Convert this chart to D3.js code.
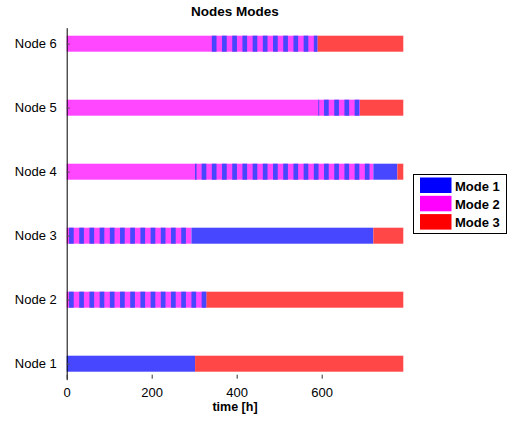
<!DOCTYPE html>
<html><head><meta charset="utf-8">
<script src="https://cdn.jsdelivr.net/npm/d3@7"></script>
<style>body{margin:0;background:#fff}svg{display:block;font-family:"Liberation Sans",Arial,sans-serif}</style>
</head><body><svg id="c" width="515" height="424"></svg>
<script>
// ---- data ----
const nodes = ["Node 1","Node 2","Node 3","Node 4","Node 5","Node 6"];
const modes = ["Mode 1","Mode 2","Mode 3"];
const modeColors = ["#0000ff","#ff00ff","#ff0000"];
const barColors = ["#4747ff","#ff47ff","#ff4747"];
const xTicks = [0,200,400,600];
const xMax = 792;
// base segments per node: [start, end, mode]
const node1Base = [[0,302,1],[302,792,3]];
const node2Base = [[0,328.5,2],[328.5,792,3]];
const node3Base = [[0,293.5,2],[293.5,721.5,1],[721.5,792,3]];
const node4Base = [[0,721.5,2],[721.5,778,1],[778,792,3]];
const node5Base = [[0,690,2],[690,792,3]];
const node6Base = [[0,590,2],[590,792,3]];
// Mode 1 intervals inside Mode 2 periods: [start, end]
const node1Stripes = [];
const node2Stripes = [[5.5,16.5],[29.5,40.5],[53.5,64.5],[77.5,88.5],[101.5,112.5],[125.5,136.5],[149.5,160.5],[173.5,184.5],[197.5,208.5],[221.5,232.5],[245.5,256.5],[269.5,280.5],[293.5,304.5],[317.5,328.5]];
const node3Stripes = [[5.5,16.5],[29.5,40.5],[53.5,64.5],[77.5,88.5],[101.5,112.5],[125.5,136.5],[149.5,160.5],[173.5,184.5],[197.5,208.5],[221.5,232.5],[245.5,256.5],[269.5,280.5]];
const node4Stripes = [[302,305.5],[317.5,328.5],[341.5,352.5],[365.5,376.5],[389.5,400.5],[413.5,424.5],[437.5,448.5],[461.5,472.5],[485.5,496.5],[509.5,520.5],[533.5,544.5],[557.5,568.5],[581.5,592.5],[605.5,616.5],[629.5,640.5],[653.5,664.5],[677.5,688.5],[701.5,712.5]];
const node5Stripes = [[592,594],[605.5,616.5],[629.5,640.5],[653.5,664.5],[677.5,688.5]];
const node6Stripes = [[341.5,352.5],[365.5,376.5],[389.5,400.5],[413.5,424.5],[437.5,448.5],[461.5,472.5],[485.5,496.5],[509.5,520.5],[533.5,544.5],[557.5,568.5],[581.5,590]];

const bases = [node1Base,node2Base,node3Base,node4Base,node5Base,node6Base];
const stripes = [node1Stripes,node2Stripes,node3Stripes,node4Stripes,node5Stripes,node6Stripes];
const segs = [];
bases.forEach((b,i)=>{
  b.forEach(s=>segs.push({node:i+1,s:s[0],e:s[1],m:s[2]}));
  stripes[i].forEach(s=>segs.push({node:i+1,s:s[0],e:s[1],m:1}));
});

// ---- chart ----
const svg = d3.select("#c");
const L=66.7, R=403.3, T=27.7, B=379.7;
const x = d3.scaleLinear().domain([0,xMax]).range([L,R]);
const y = d3.scaleLinear().domain([0.75,6.25]).range([B,T]);
const half = 0.125;
const color = d3.scaleOrdinal().domain([1,2,3]).range(barColors);

svg.append("g").selectAll("rect").data(segs).join("rect")
  .attr("x",d=>x(d.s)).attr("width",d=>x(d.e)-x(d.s))
  .attr("y",d=>y(d.node+half)).attr("height",d=>y(d.node-half)-y(d.node+half))
  .attr("fill",d=>color(d.m));

// y axis
const yAxis = d3.axisLeft(y).tickValues([1,2,3,4,5,6]).tickFormat(d=>nodes[d-1]).tickSizeInner(-3).tickSizeOuter(0).tickPadding(10);
const gy = svg.append("g").attr("transform",`translate(${L},0)`).call(yAxis);
gy.select(".domain").attr("stroke","#000").attr("stroke-width",1);
gy.selectAll(".tick line").attr("stroke","#555");
gy.selectAll("text").attr("font-size",13).attr("fill","#000").attr("font-family","Liberation Sans, Arial, sans-serif");

// x axis
const xAxis = d3.axisBottom(x).tickValues(xTicks).tickFormat(d3.format("d")).tickSizeInner(-4).tickSizeOuter(0).tickPadding(9);
const gx = svg.append("g").attr("transform",`translate(0,${B-1})`).call(xAxis);
gx.select(".domain").remove();
gx.selectAll(".tick line").attr("stroke","#333");
gx.selectAll("text").attr("font-size",13).attr("fill","#000").attr("font-family","Liberation Sans, Arial, sans-serif");

svg.append("text").attr("x",(L+R)/2).attr("y",411).attr("text-anchor","middle")
  .attr("font-size",12.5).attr("font-weight","bold").text("time [h]");
svg.append("text").attr("x",(L+R)/2).attr("y",16).attr("text-anchor","middle")
  .attr("font-size",13.5).attr("font-weight","bold").text("Nodes Modes");

// legend
const lg = svg.append("g");
lg.append("rect").attr("x",413.5).attr("y",174.5).attr("width",93).attr("height",59)
  .attr("fill","#fff").attr("stroke","#000").attr("stroke-width",1);
modes.forEach((m,i)=>{
  lg.append("rect").attr("x",420).attr("y",177.5+i*18.3).attr("width",31.5).attr("height",15.5)
    .attr("fill",modeColors[i]);
  lg.append("text").attr("x",455).attr("y",190.5+i*18.3).attr("font-size",13).attr("font-weight","bold").text(m);
});
</script></body></html>
